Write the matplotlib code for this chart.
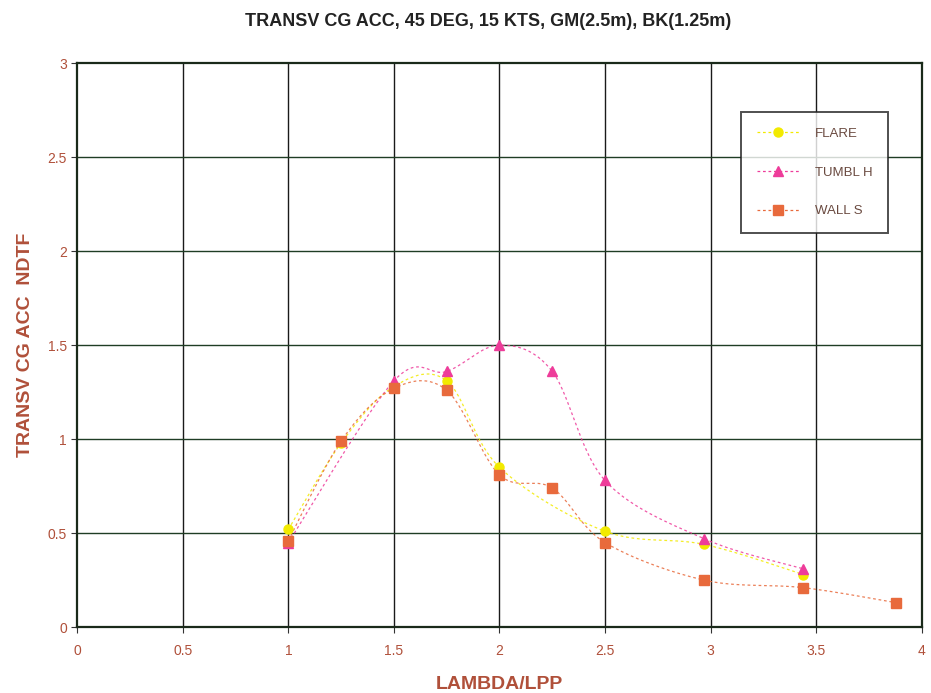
import numpy as np
import matplotlib.pyplot as plt

plt.rcParams['font.family'] = ['Liberation Sans', 'DejaVu Sans']

flare_x = [1.0, 1.25, 1.5, 1.75, 2.0, 2.5, 2.97, 3.44]
flare_y = [0.52, 0.98, 1.28, 1.31, 0.85, 0.51, 0.44, 0.28]

tumbl_x = [1.0, 1.5, 1.75, 2.0, 2.25, 2.5, 2.97, 3.44]
tumbl_y = [0.45, 1.31, 1.36, 1.50, 1.36, 0.78, 0.47, 0.31]

wall_x = [1.0, 1.25, 1.5, 1.75, 2.0, 2.25, 2.5, 2.97, 3.44, 3.88]
wall_y = [0.46, 0.99, 1.27, 1.26, 0.81, 0.74, 0.45, 0.25, 0.21, 0.13]

x_ticks = [0, 0.5, 1, 1.5, 2, 2.5, 3, 3.5, 4]
x_tick_labels = ["0", "0.5", "1", "1.5", "2", "2.5", "3", "3.5", "4"]
y_ticks = [0, 0.5, 1, 1.5, 2, 2.5, 3]
y_tick_labels = ["0", "0.5", "1", "1.5", "2", "2.5", "3"]

TEXT_RED = "#b0503a"


def smooth(x, y, n=30):
    """Excel-artige Glaettung (Catmull-Rom als Bezier) zwischen den Punkten."""
    x = np.asarray(x, float)
    y = np.asarray(y, float)
    pts = np.column_stack([x, y])
    out = []
    t = np.linspace(0, 1, n)
    for i in range(len(pts) - 1):
        p0 = pts[i - 1] if i > 0 else pts[i]
        p1 = pts[i]
        p2 = pts[i + 1]
        p3 = pts[i + 2] if i + 2 < len(pts) else pts[i + 1]
        c1 = p1 + (p2 - p0) / 6.0
        c2 = p2 - (p3 - p1) / 6.0
        seg = ((1 - t) ** 3)[:, None] * p1 + (3 * (1 - t) ** 2 * t)[:, None] * c1 \
            + (3 * (1 - t) * t ** 2)[:, None] * c2 + (t ** 3)[:, None] * p2
        out.append(seg)
    s = np.vstack(out)
    return s[:, 0], s[:, 1]


fig = plt.figure(figsize=(9.31, 6.93), dpi=100)
ax = fig.add_axes([0.083, 0.095, 0.907, 0.814])

series = [
    (flare_x, flare_y, "#f2ea00", "o", 6.5, "FLARE"),
    (tumbl_x, tumbl_y, "#ee3c9a", "^", 7.5, "TUMBL H"),
    (wall_x, wall_y, "#e86a3c", "s", 6.5, "WALL S"),
]

DASH = (0, (2.2, 2.2))
for xs, ys, col, mk, ms, lab in series:
    sx, sy = smooth(xs, ys)
    ax.plot(sx, sy, color=col, lw=0.9, ls=DASH, alpha=0.85, zorder=3)
    ax.plot(xs, ys, ls="none", marker=mk, ms=ms, color=col, zorder=4)
    ax.plot([], [], color=col, lw=0.9, ls=DASH, marker=mk, ms=ms, label=lab)

ax.set_xlim(0, 4)
ax.set_ylim(0, 3)
ax.set_xticks(x_ticks)
ax.set_xticklabels(x_tick_labels)
ax.set_yticks(y_ticks)
ax.set_yticklabels(y_tick_labels)

for x in x_ticks[1:-1]:
    ax.axvline(x, color="#1a1a1a", lw=1.0, zorder=1)
for y in y_ticks[1:-1]:
    ax.axhline(y, color="#1f3d24", lw=1.0, zorder=1)

for sp in ax.spines.values():
    sp.set_color("#1a2a1a")
    sp.set_linewidth(1.6)

ax.tick_params(axis="both", colors="#333333", labelcolor=TEXT_RED, labelsize=10,
               length=4, direction="out")
ax.tick_params(axis="x", pad=8)

ax.set_xlabel("LAMBDA/LPP", color=TEXT_RED, fontsize=14, fontweight="bold",
              labelpad=13)
ax.set_ylabel("TRANSV CG ACC  NDTF", color=TEXT_RED, fontsize=14,
              fontweight="bold", labelpad=10)
ax.set_title("TRANSV CG ACC, 45 DEG, 15 KTS, GM(2.5m), BK(1.25m)",
             fontsize=13, fontweight="bold", color="#222222", pad=27, x=0.487)

leg = ax.legend(loc="upper right", bbox_to_anchor=(0.968, 0.925), frameon=True,
                fancybox=False, edgecolor="#222222", fontsize=9.5, labelcolor="#6a4a40",
                borderpad=1.2, labelspacing=2.0, handlelength=3.2, handletextpad=1.2)
leg.get_frame().set_linewidth(1.4)

fig.savefig("out.png", dpi=100)
